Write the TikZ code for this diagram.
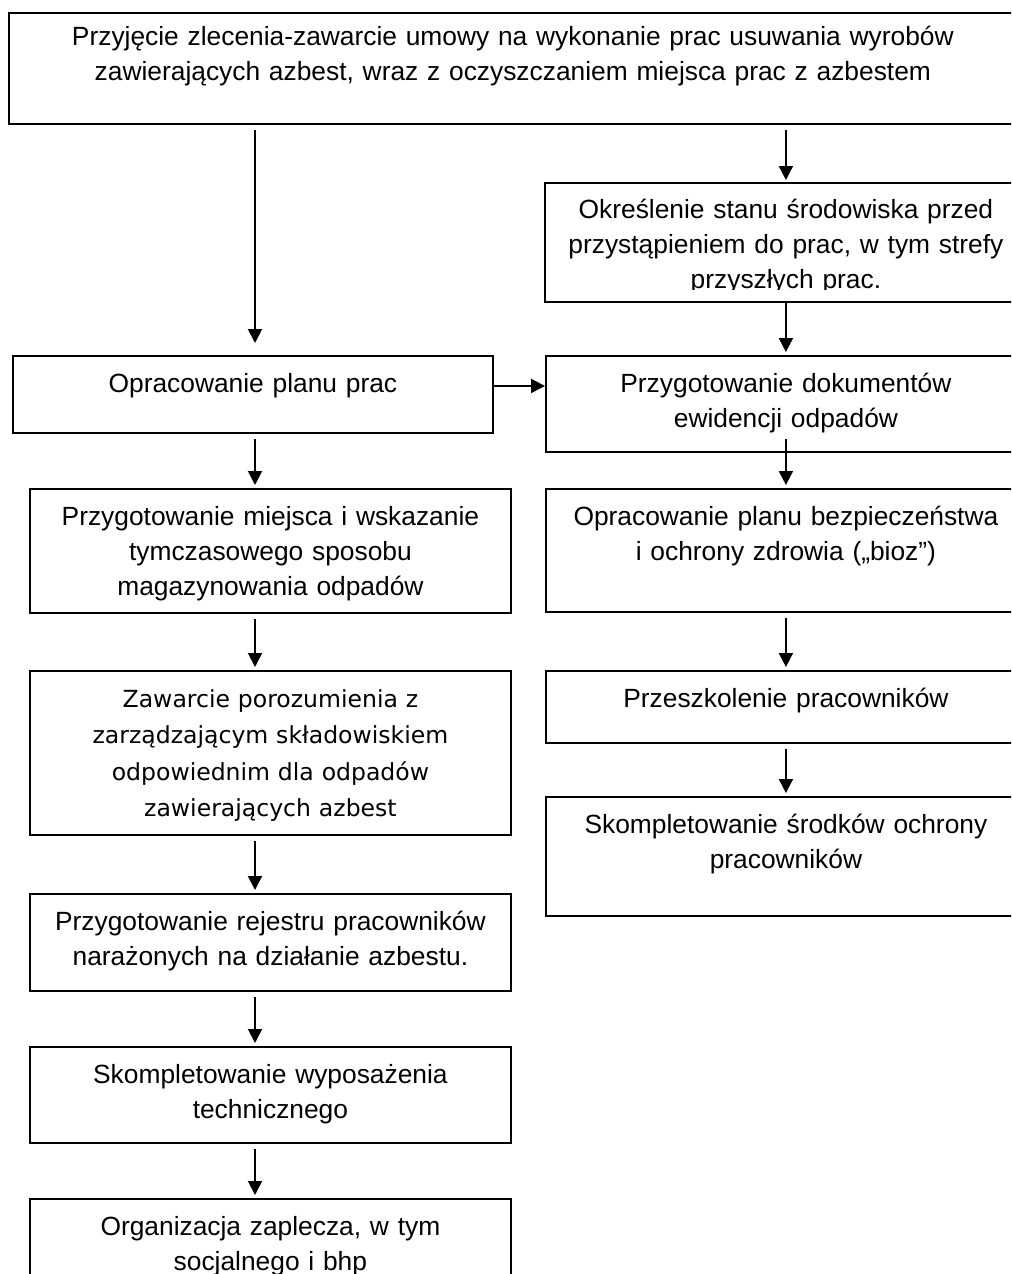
\documentclass[tikz,border=0pt]{standalone}
\usepackage{fontspec}
\setmainfont{Liberation Sans}
\newfontfamily\dejavu{DejaVu Sans}
\usepackage{tikz}
\usetikzlibrary{arrows.meta}

\begin{document}
\begin{tikzpicture}[x=0.02cm,y=-0.02cm,
  stepbox/.style={draw,line width=1.1pt,anchor=north west,inner sep=0pt,align=center,
    text height=0.74cm,font=\fontsize{15}{19.9}\selectfont},
  arr/.style={line width=1.1pt,-{Triangle[length=2.8mm,width=2.8mm]},shorten <=1mm,shorten >=0.6mm}]
\useasboundingbox (0,0) rectangle (1011,1274);
\clip (0,0) rectangle (1011,1274);

% order (top)
\node[stepbox,text width=20.16cm,text height=0.66cm,text depth=1.56cm] (zlec) at (8,12)
  {Przyjęcie zlecenia-zawarcie umowy na wykonanie prac usuwania wyrobów\\
   zawierających azbest, wraz z oczyszczaniem miejsca prac z azbestem};

% right column
\begin{scope}
  \clip (545,183) rectangle (1025,289);
  \node[stepbox,draw=none,text width=9.6cm,text height=0.7cm,text depth=1.64cm] (okr) at (545,183)
    {Określenie stanu środowiska przed\\przystąpieniem do prac, w tym strefy\\przyszłych prac.};
\end{scope}
\draw[line width=1.1pt] (okr.north west) rectangle (okr.south east);
\node[stepbox,text width=9.6cm,text depth=1.18cm] (dok) at (545,355)
  {Przygotowanie dokumentów\\ewidencji odpadów};
\node[stepbox,text width=9.6cm,text depth=1.72cm] (bezp) at (545,488)
  {Opracowanie planu bezpieczeństwa\\i ochrony zdrowia („bioz”)};
\node[stepbox,text width=9.6cm,text depth=0.7cm] (szkol) at (545,670)
  {Przeszkolenie pracowników};
\node[stepbox,text width=9.6cm,text depth=1.64cm] (srodki) at (545,796)
  {Skompletowanie środków ochrony\\pracowników};

% left column
\node[stepbox,text width=9.6cm,text depth=0.8cm] (plan) at (12,355)
  {Opracowanie planu prac};
\node[stepbox,text width=9.62cm,text depth=1.74cm] (miejsce) at (29,488)
  {Przygotowanie miejsca i wskazanie\\tymczasowego sposobu\\magazynowania odpadów};
\node[stepbox,text width=9.62cm,text depth=2.54cm,font=\dejavu\fontsize{13.4}{20.5}\selectfont] (porozum) at (29,670)
  {Zawarcie porozumienia z\\zarządzającym składowiskiem\\odpowiednim dla odpadów\\zawierających azbest};
\node[stepbox,text width=9.62cm,text depth=1.2cm] (rejestr) at (29,893)
  {Przygotowanie rejestru pracowników\\narażonych na działanie azbestu.};
\node[stepbox,text width=9.62cm,text depth=1.18cm] (sprzet) at (29,1046)
  {Skompletowanie wyposażenia\\technicznego};
\node[stepbox,text width=9.62cm,text depth=2.06cm] (zaplecze) at (29,1198)
  {Organizacja zaplecza, w tym\\socjalnego i bhp};

% arrows
\coordinate (lx) at (255,0);
\draw[arr,shorten >=2.4mm] (zlec.south -| lx) -- (plan.north -| lx);
\foreach \a/\b in {plan/miejsce,miejsce/porozum,porozum/rejestr,rejestr/sprzet,sprzet/zaplecze}
  \draw[arr] (\a.south -| lx) -- (\b.north -| lx);
\draw[arr] (zlec.south -| okr.north) -- (okr.north);
\draw[arr,shorten <=0mm] (okr.south) -- (dok.north);
\draw[arr,shorten <=-2.8mm] (dok.south) -- (bezp.north);
\foreach \a/\b in {bezp/szkol,szkol/srodki}
  \draw[arr] (\a.south) -- (\b.north);
\draw[arr,shorten <=0mm,shorten >=0mm] ([yshift=1.7mm]plan.east) -- ([yshift=1.7mm]plan.east -| dok.west);
\end{tikzpicture}
\end{document}
